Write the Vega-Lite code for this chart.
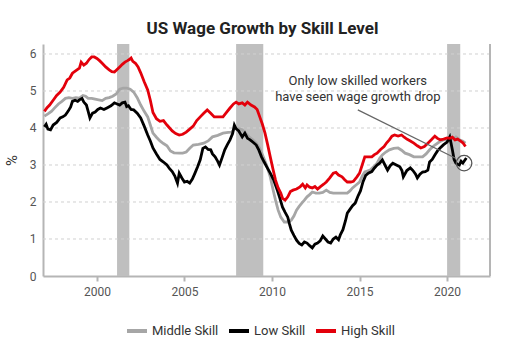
{
  "$schema": "https://vega.github.io/schema/vega-lite/v6.json",
  "width": 447,
  "height": 232,
  "autosize": {"type": "none"},
  "padding": {"left": 43, "top": 44, "right": 22, "bottom": 75},
  "title": {"text": "US Wage Growth by Skill Level", "font": "Roboto", "fontSize": 17, "fontWeight": "bold", "color": "#222222", "anchor": "middle", "offset": 5, "dx": -4},
  "config": {
    "view": {"stroke": null},
    "font": "Roboto",
    "axis": {"labelFont": "Roboto", "titleFont": "Roboto", "labelColor": "#555555", "titleColor": "#333333", "labelFontSize": 12, "domainColor": "#b5b5b5", "domainWidth": 2, "tickColor": "#b5b5b5", "grid": false, "labelOverlap": false},
    "axisX": {"title": null, "ticks": true, "tickSize": 5, "tickWidth": 2, "labelPadding": 5},
    "axisY": {"values": [0, 1, 2, 3, 4, 5, 6], "ticks": false, "labelPadding": 7, "titleFontSize": 15, "titleFontWeight": "normal", "titlePadding": 10}
  },
  "datasets": {
    "recessions": [
      {"start": 2001.15, "end": 2001.85},
      {"start": 2007.95, "end": 2009.5},
      {"start": 2020.0, "end": 2020.75}
    ],
    "grid": [{"g": 1}, {"g": 2}, {"g": 3}, {"g": 4}, {"g": 5}, {"g": 6}],
    "series": [
      {"series": "Middle Skill", "year": 1997.0, "value": 4.32},
      {"series": "Middle Skill", "year": 1997.2, "value": 4.38},
      {"series": "Middle Skill", "year": 1997.4, "value": 4.45},
      {"series": "Middle Skill", "year": 1997.6, "value": 4.55},
      {"series": "Middle Skill", "year": 1997.8, "value": 4.65},
      {"series": "Middle Skill", "year": 1998.0, "value": 4.72},
      {"series": "Middle Skill", "year": 1998.2, "value": 4.8},
      {"series": "Middle Skill", "year": 1998.4, "value": 4.82},
      {"series": "Middle Skill", "year": 1998.6, "value": 4.8},
      {"series": "Middle Skill", "year": 1998.8, "value": 4.82},
      {"series": "Middle Skill", "year": 1999.0, "value": 4.81},
      {"series": "Middle Skill", "year": 1999.2, "value": 4.88},
      {"series": "Middle Skill", "year": 1999.35, "value": 4.86},
      {"series": "Middle Skill", "year": 1999.5, "value": 4.8},
      {"series": "Middle Skill", "year": 1999.7, "value": 4.8},
      {"series": "Middle Skill", "year": 1999.9, "value": 4.78},
      {"series": "Middle Skill", "year": 2000.1, "value": 4.76},
      {"series": "Middle Skill", "year": 2000.3, "value": 4.74},
      {"series": "Middle Skill", "year": 2000.5, "value": 4.8},
      {"series": "Middle Skill", "year": 2000.7, "value": 4.82},
      {"series": "Middle Skill", "year": 2000.9, "value": 4.86},
      {"series": "Middle Skill", "year": 2001.1, "value": 4.92},
      {"series": "Middle Skill", "year": 2001.3, "value": 5.05},
      {"series": "Middle Skill", "year": 2001.5, "value": 5.08},
      {"series": "Middle Skill", "year": 2001.7, "value": 5.08},
      {"series": "Middle Skill", "year": 2001.9, "value": 5.05},
      {"series": "Middle Skill", "year": 2002.1, "value": 4.97},
      {"series": "Middle Skill", "year": 2002.3, "value": 4.82},
      {"series": "Middle Skill", "year": 2002.5, "value": 4.62},
      {"series": "Middle Skill", "year": 2002.7, "value": 4.45},
      {"series": "Middle Skill", "year": 2002.9, "value": 4.3},
      {"series": "Middle Skill", "year": 2003.05, "value": 4.08},
      {"series": "Middle Skill", "year": 2003.2, "value": 3.86},
      {"series": "Middle Skill", "year": 2003.4, "value": 3.75},
      {"series": "Middle Skill", "year": 2003.6, "value": 3.65},
      {"series": "Middle Skill", "year": 2003.8, "value": 3.58},
      {"series": "Middle Skill", "year": 2004.0, "value": 3.52},
      {"series": "Middle Skill", "year": 2004.2, "value": 3.38},
      {"series": "Middle Skill", "year": 2004.4, "value": 3.33},
      {"series": "Middle Skill", "year": 2004.7, "value": 3.32},
      {"series": "Middle Skill", "year": 2004.9, "value": 3.32},
      {"series": "Middle Skill", "year": 2005.1, "value": 3.35},
      {"series": "Middle Skill", "year": 2005.3, "value": 3.45},
      {"series": "Middle Skill", "year": 2005.5, "value": 3.54},
      {"series": "Middle Skill", "year": 2005.8, "value": 3.56},
      {"series": "Middle Skill", "year": 2006.1, "value": 3.59},
      {"series": "Middle Skill", "year": 2006.35, "value": 3.65},
      {"series": "Middle Skill", "year": 2006.6, "value": 3.76},
      {"series": "Middle Skill", "year": 2006.9, "value": 3.8},
      {"series": "Middle Skill", "year": 2007.2, "value": 3.86},
      {"series": "Middle Skill", "year": 2007.5, "value": 3.88},
      {"series": "Middle Skill", "year": 2007.7, "value": 3.89},
      {"series": "Middle Skill", "year": 2007.9, "value": 4.0},
      {"series": "Middle Skill", "year": 2008.1, "value": 3.98},
      {"series": "Middle Skill", "year": 2008.3, "value": 3.95},
      {"series": "Middle Skill", "year": 2008.5, "value": 3.85},
      {"series": "Middle Skill", "year": 2008.7, "value": 3.75},
      {"series": "Middle Skill", "year": 2008.9, "value": 3.68},
      {"series": "Middle Skill", "year": 2009.1, "value": 3.59},
      {"series": "Middle Skill", "year": 2009.3, "value": 3.45},
      {"series": "Middle Skill", "year": 2009.5, "value": 3.22},
      {"series": "Middle Skill", "year": 2009.7, "value": 2.98},
      {"series": "Middle Skill", "year": 2009.9, "value": 2.68},
      {"series": "Middle Skill", "year": 2010.05, "value": 2.35},
      {"series": "Middle Skill", "year": 2010.2, "value": 2.05},
      {"series": "Middle Skill", "year": 2010.35, "value": 1.78},
      {"series": "Middle Skill", "year": 2010.5, "value": 1.59},
      {"series": "Middle Skill", "year": 2010.7, "value": 1.46},
      {"series": "Middle Skill", "year": 2010.9, "value": 1.46},
      {"series": "Middle Skill", "year": 2011.1, "value": 1.51},
      {"series": "Middle Skill", "year": 2011.25, "value": 1.62},
      {"series": "Middle Skill", "year": 2011.4, "value": 1.78},
      {"series": "Middle Skill", "year": 2011.55, "value": 1.88},
      {"series": "Middle Skill", "year": 2011.7, "value": 1.97},
      {"series": "Middle Skill", "year": 2011.85, "value": 2.05},
      {"series": "Middle Skill", "year": 2012.0, "value": 2.14},
      {"series": "Middle Skill", "year": 2012.15, "value": 2.2},
      {"series": "Middle Skill", "year": 2012.3, "value": 2.27},
      {"series": "Middle Skill", "year": 2012.5, "value": 2.24},
      {"series": "Middle Skill", "year": 2012.7, "value": 2.24},
      {"series": "Middle Skill", "year": 2012.9, "value": 2.26},
      {"series": "Middle Skill", "year": 2013.1, "value": 2.32},
      {"series": "Middle Skill", "year": 2013.3, "value": 2.26},
      {"series": "Middle Skill", "year": 2013.5, "value": 2.24},
      {"series": "Middle Skill", "year": 2013.7, "value": 2.24},
      {"series": "Middle Skill", "year": 2013.9, "value": 2.24},
      {"series": "Middle Skill", "year": 2014.1, "value": 2.24},
      {"series": "Middle Skill", "year": 2014.3, "value": 2.24},
      {"series": "Middle Skill", "year": 2014.45, "value": 2.3},
      {"series": "Middle Skill", "year": 2014.6, "value": 2.38},
      {"series": "Middle Skill", "year": 2014.8, "value": 2.46},
      {"series": "Middle Skill", "year": 2015.0, "value": 2.54},
      {"series": "Middle Skill", "year": 2015.15, "value": 2.7},
      {"series": "Middle Skill", "year": 2015.3, "value": 2.81},
      {"series": "Middle Skill", "year": 2015.6, "value": 2.86},
      {"series": "Middle Skill", "year": 2015.8, "value": 2.95},
      {"series": "Middle Skill", "year": 2016.0, "value": 3.05},
      {"series": "Middle Skill", "year": 2016.15, "value": 3.18},
      {"series": "Middle Skill", "year": 2016.3, "value": 3.27},
      {"series": "Middle Skill", "year": 2016.5, "value": 3.35},
      {"series": "Middle Skill", "year": 2016.7, "value": 3.41},
      {"series": "Middle Skill", "year": 2016.95, "value": 3.45},
      {"series": "Middle Skill", "year": 2017.2, "value": 3.46},
      {"series": "Middle Skill", "year": 2017.4, "value": 3.4},
      {"series": "Middle Skill", "year": 2017.6, "value": 3.32},
      {"series": "Middle Skill", "year": 2017.85, "value": 3.28},
      {"series": "Middle Skill", "year": 2018.1, "value": 3.22},
      {"series": "Middle Skill", "year": 2018.35, "value": 3.22},
      {"series": "Middle Skill", "year": 2018.6, "value": 3.22},
      {"series": "Middle Skill", "year": 2018.8, "value": 3.3},
      {"series": "Middle Skill", "year": 2019.0, "value": 3.41},
      {"series": "Middle Skill", "year": 2019.15, "value": 3.48},
      {"series": "Middle Skill", "year": 2019.3, "value": 3.54},
      {"series": "Middle Skill", "year": 2019.55, "value": 3.62},
      {"series": "Middle Skill", "year": 2019.8, "value": 3.68},
      {"series": "Middle Skill", "year": 2020.0, "value": 3.68},
      {"series": "Middle Skill", "year": 2020.2, "value": 3.68},
      {"series": "Middle Skill", "year": 2020.35, "value": 3.72},
      {"series": "Middle Skill", "year": 2020.5, "value": 3.76},
      {"series": "Middle Skill", "year": 2020.7, "value": 3.68},
      {"series": "Middle Skill", "year": 2020.9, "value": 3.64},
      {"series": "Middle Skill", "year": 2021.05, "value": 3.59},

      {"series": "Low Skill", "year": 1997.0, "value": 4.03},
      {"series": "Low Skill", "year": 1997.1, "value": 4.1},
      {"series": "Low Skill", "year": 1997.2, "value": 3.97},
      {"series": "Low Skill", "year": 1997.35, "value": 3.95},
      {"series": "Low Skill", "year": 1997.5, "value": 4.08},
      {"series": "Low Skill", "year": 1997.7, "value": 4.15},
      {"series": "Low Skill", "year": 1997.9, "value": 4.27},
      {"series": "Low Skill", "year": 1998.05, "value": 4.3},
      {"series": "Low Skill", "year": 1998.2, "value": 4.35},
      {"series": "Low Skill", "year": 1998.35, "value": 4.45},
      {"series": "Low Skill", "year": 1998.5, "value": 4.57},
      {"series": "Low Skill", "year": 1998.6, "value": 4.72},
      {"series": "Low Skill", "year": 1998.75, "value": 4.75},
      {"series": "Low Skill", "year": 1998.9, "value": 4.72},
      {"series": "Low Skill", "year": 1999.0, "value": 4.76},
      {"series": "Low Skill", "year": 1999.15, "value": 4.8},
      {"series": "Low Skill", "year": 1999.25, "value": 4.7},
      {"series": "Low Skill", "year": 1999.4, "value": 4.62},
      {"series": "Low Skill", "year": 1999.5, "value": 4.45},
      {"series": "Low Skill", "year": 1999.6, "value": 4.27},
      {"series": "Low Skill", "year": 1999.75, "value": 4.4},
      {"series": "Low Skill", "year": 1999.9, "value": 4.43},
      {"series": "Low Skill", "year": 2000.05, "value": 4.5},
      {"series": "Low Skill", "year": 2000.2, "value": 4.54},
      {"series": "Low Skill", "year": 2000.4, "value": 4.5},
      {"series": "Low Skill", "year": 2000.6, "value": 4.55},
      {"series": "Low Skill", "year": 2000.8, "value": 4.6},
      {"series": "Low Skill", "year": 2001.0, "value": 4.68},
      {"series": "Low Skill", "year": 2001.15, "value": 4.65},
      {"series": "Low Skill", "year": 2001.3, "value": 4.62},
      {"series": "Low Skill", "year": 2001.45, "value": 4.68},
      {"series": "Low Skill", "year": 2001.6, "value": 4.7},
      {"series": "Low Skill", "year": 2001.7, "value": 4.58},
      {"series": "Low Skill", "year": 2001.8, "value": 4.6},
      {"series": "Low Skill", "year": 2001.95, "value": 4.5},
      {"series": "Low Skill", "year": 2002.1, "value": 4.49},
      {"series": "Low Skill", "year": 2002.3, "value": 4.4},
      {"series": "Low Skill", "year": 2002.5, "value": 4.27},
      {"series": "Low Skill", "year": 2002.7, "value": 4.05},
      {"series": "Low Skill", "year": 2002.9, "value": 3.81},
      {"series": "Low Skill", "year": 2003.05, "value": 3.65},
      {"series": "Low Skill", "year": 2003.2, "value": 3.46},
      {"series": "Low Skill", "year": 2003.4, "value": 3.3},
      {"series": "Low Skill", "year": 2003.6, "value": 3.15},
      {"series": "Low Skill", "year": 2003.8, "value": 3.08},
      {"series": "Low Skill", "year": 2004.0, "value": 3.0},
      {"series": "Low Skill", "year": 2004.15, "value": 2.9},
      {"series": "Low Skill", "year": 2004.3, "value": 2.82},
      {"series": "Low Skill", "year": 2004.45, "value": 2.7},
      {"series": "Low Skill", "year": 2004.6, "value": 2.51},
      {"series": "Low Skill", "year": 2004.7, "value": 2.78},
      {"series": "Low Skill", "year": 2004.85, "value": 2.65},
      {"series": "Low Skill", "year": 2005.0, "value": 2.54},
      {"series": "Low Skill", "year": 2005.15, "value": 2.56},
      {"series": "Low Skill", "year": 2005.3, "value": 2.51},
      {"series": "Low Skill", "year": 2005.45, "value": 2.62},
      {"series": "Low Skill", "year": 2005.6, "value": 2.78},
      {"series": "Low Skill", "year": 2005.75, "value": 2.95},
      {"series": "Low Skill", "year": 2005.9, "value": 3.14},
      {"series": "Low Skill", "year": 2006.05, "value": 3.45},
      {"series": "Low Skill", "year": 2006.2, "value": 3.49},
      {"series": "Low Skill", "year": 2006.35, "value": 3.42},
      {"series": "Low Skill", "year": 2006.5, "value": 3.41},
      {"series": "Low Skill", "year": 2006.6, "value": 3.3},
      {"series": "Low Skill", "year": 2006.75, "value": 3.22},
      {"series": "Low Skill", "year": 2006.9, "value": 3.1},
      {"series": "Low Skill", "year": 2007.0, "value": 3.0},
      {"series": "Low Skill", "year": 2007.15, "value": 3.2},
      {"series": "Low Skill", "year": 2007.3, "value": 3.41},
      {"series": "Low Skill", "year": 2007.45, "value": 3.55},
      {"series": "Low Skill", "year": 2007.6, "value": 3.68},
      {"series": "Low Skill", "year": 2007.75, "value": 3.85},
      {"series": "Low Skill", "year": 2007.85, "value": 4.08},
      {"series": "Low Skill", "year": 2007.95, "value": 3.98},
      {"series": "Low Skill", "year": 2008.1, "value": 3.92},
      {"series": "Low Skill", "year": 2008.3, "value": 3.76},
      {"series": "Low Skill", "year": 2008.45, "value": 3.86},
      {"series": "Low Skill", "year": 2008.6, "value": 3.72},
      {"series": "Low Skill", "year": 2008.75, "value": 3.68},
      {"series": "Low Skill", "year": 2008.9, "value": 3.62},
      {"series": "Low Skill", "year": 2009.1, "value": 3.54},
      {"series": "Low Skill", "year": 2009.25, "value": 3.4},
      {"series": "Low Skill", "year": 2009.4, "value": 3.22},
      {"series": "Low Skill", "year": 2009.55, "value": 3.08},
      {"series": "Low Skill", "year": 2009.7, "value": 2.95},
      {"series": "Low Skill", "year": 2009.9, "value": 2.78},
      {"series": "Low Skill", "year": 2010.1, "value": 2.59},
      {"series": "Low Skill", "year": 2010.3, "value": 2.32},
      {"series": "Low Skill", "year": 2010.45, "value": 2.1},
      {"series": "Low Skill", "year": 2010.6, "value": 1.86},
      {"series": "Low Skill", "year": 2010.75, "value": 1.72},
      {"series": "Low Skill", "year": 2010.9, "value": 1.59},
      {"series": "Low Skill", "year": 2011.0, "value": 1.4},
      {"series": "Low Skill", "year": 2011.1, "value": 1.24},
      {"series": "Low Skill", "year": 2011.25, "value": 1.1},
      {"series": "Low Skill", "year": 2011.4, "value": 0.97},
      {"series": "Low Skill", "year": 2011.55, "value": 0.88},
      {"series": "Low Skill", "year": 2011.7, "value": 0.84},
      {"series": "Low Skill", "year": 2011.85, "value": 0.92},
      {"series": "Low Skill", "year": 2012.0, "value": 0.89},
      {"series": "Low Skill", "year": 2012.15, "value": 0.82},
      {"series": "Low Skill", "year": 2012.3, "value": 0.76},
      {"series": "Low Skill", "year": 2012.45, "value": 0.86},
      {"series": "Low Skill", "year": 2012.6, "value": 0.89},
      {"series": "Low Skill", "year": 2012.75, "value": 0.95},
      {"series": "Low Skill", "year": 2012.9, "value": 1.08},
      {"series": "Low Skill", "year": 2013.05, "value": 1.0},
      {"series": "Low Skill", "year": 2013.2, "value": 0.92},
      {"series": "Low Skill", "year": 2013.35, "value": 0.89},
      {"series": "Low Skill", "year": 2013.5, "value": 1.0},
      {"series": "Low Skill", "year": 2013.65, "value": 1.05},
      {"series": "Low Skill", "year": 2013.8, "value": 0.98},
      {"series": "Low Skill", "year": 2013.9, "value": 1.11},
      {"series": "Low Skill", "year": 2014.05, "value": 1.25},
      {"series": "Low Skill", "year": 2014.2, "value": 1.5},
      {"series": "Low Skill", "year": 2014.3, "value": 1.7},
      {"series": "Low Skill", "year": 2014.45, "value": 1.8},
      {"series": "Low Skill", "year": 2014.6, "value": 1.9},
      {"series": "Low Skill", "year": 2014.75, "value": 1.97},
      {"series": "Low Skill", "year": 2014.9, "value": 2.15},
      {"series": "Low Skill", "year": 2015.05, "value": 2.3},
      {"series": "Low Skill", "year": 2015.2, "value": 2.55},
      {"series": "Low Skill", "year": 2015.35, "value": 2.72},
      {"series": "Low Skill", "year": 2015.5, "value": 2.78},
      {"series": "Low Skill", "year": 2015.7, "value": 2.82},
      {"series": "Low Skill", "year": 2015.85, "value": 2.92},
      {"series": "Low Skill", "year": 2016.0, "value": 3.0},
      {"series": "Low Skill", "year": 2016.15, "value": 3.05},
      {"series": "Low Skill", "year": 2016.3, "value": 3.14},
      {"series": "Low Skill", "year": 2016.45, "value": 3.0},
      {"series": "Low Skill", "year": 2016.6, "value": 2.86},
      {"series": "Low Skill", "year": 2016.75, "value": 2.98},
      {"series": "Low Skill", "year": 2016.9, "value": 3.05},
      {"series": "Low Skill", "year": 2017.1, "value": 3.0},
      {"series": "Low Skill", "year": 2017.3, "value": 2.95},
      {"series": "Low Skill", "year": 2017.42, "value": 2.85},
      {"series": "Low Skill", "year": 2017.5, "value": 2.68},
      {"series": "Low Skill", "year": 2017.7, "value": 2.85},
      {"series": "Low Skill", "year": 2017.9, "value": 2.92},
      {"series": "Low Skill", "year": 2018.05, "value": 2.85},
      {"series": "Low Skill", "year": 2018.2, "value": 2.75},
      {"series": "Low Skill", "year": 2018.3, "value": 2.65},
      {"series": "Low Skill", "year": 2018.45, "value": 2.75},
      {"series": "Low Skill", "year": 2018.6, "value": 2.81},
      {"series": "Low Skill", "year": 2018.75, "value": 2.82},
      {"series": "Low Skill", "year": 2018.9, "value": 2.86},
      {"series": "Low Skill", "year": 2019.0, "value": 3.08},
      {"series": "Low Skill", "year": 2019.15, "value": 3.15},
      {"series": "Low Skill", "year": 2019.3, "value": 3.27},
      {"series": "Low Skill", "year": 2019.45, "value": 3.38},
      {"series": "Low Skill", "year": 2019.6, "value": 3.46},
      {"series": "Low Skill", "year": 2019.8, "value": 3.55},
      {"series": "Low Skill", "year": 2020.0, "value": 3.62},
      {"series": "Low Skill", "year": 2020.15, "value": 3.76},
      {"series": "Low Skill", "year": 2020.22, "value": 3.6},
      {"series": "Low Skill", "year": 2020.3, "value": 3.41},
      {"series": "Low Skill", "year": 2020.4, "value": 3.15},
      {"series": "Low Skill", "year": 2020.5, "value": 3.05},
      {"series": "Low Skill", "year": 2020.6, "value": 3.02},
      {"series": "Low Skill", "year": 2020.7, "value": 3.0},
      {"series": "Low Skill", "year": 2020.8, "value": 3.1},
      {"series": "Low Skill", "year": 2020.9, "value": 3.05},
      {"series": "Low Skill", "year": 2021.0, "value": 3.12},
      {"series": "Low Skill", "year": 2021.1, "value": 3.19},

      {"series": "High Skill", "year": 1997.0, "value": 4.45},
      {"series": "High Skill", "year": 1997.15, "value": 4.55},
      {"series": "High Skill", "year": 1997.3, "value": 4.62},
      {"series": "High Skill", "year": 1997.5, "value": 4.75},
      {"series": "High Skill", "year": 1997.7, "value": 4.88},
      {"series": "High Skill", "year": 1997.9, "value": 4.97},
      {"series": "High Skill", "year": 1998.1, "value": 5.1},
      {"series": "High Skill", "year": 1998.3, "value": 5.3},
      {"series": "High Skill", "year": 1998.45, "value": 5.35},
      {"series": "High Skill", "year": 1998.6, "value": 5.48},
      {"series": "High Skill", "year": 1998.8, "value": 5.55},
      {"series": "High Skill", "year": 1999.0, "value": 5.62},
      {"series": "High Skill", "year": 1999.1, "value": 5.78},
      {"series": "High Skill", "year": 1999.25, "value": 5.7},
      {"series": "High Skill", "year": 1999.4, "value": 5.75},
      {"series": "High Skill", "year": 1999.55, "value": 5.85},
      {"series": "High Skill", "year": 1999.7, "value": 5.92},
      {"series": "High Skill", "year": 1999.85, "value": 5.92},
      {"series": "High Skill", "year": 2000.0, "value": 5.88},
      {"series": "High Skill", "year": 2000.15, "value": 5.82},
      {"series": "High Skill", "year": 2000.3, "value": 5.75},
      {"series": "High Skill", "year": 2000.5, "value": 5.65},
      {"series": "High Skill", "year": 2000.7, "value": 5.57},
      {"series": "High Skill", "year": 2000.85, "value": 5.52},
      {"series": "High Skill", "year": 2001.0, "value": 5.51},
      {"series": "High Skill", "year": 2001.15, "value": 5.58},
      {"series": "High Skill", "year": 2001.3, "value": 5.65},
      {"series": "High Skill", "year": 2001.45, "value": 5.72},
      {"series": "High Skill", "year": 2001.6, "value": 5.78},
      {"series": "High Skill", "year": 2001.75, "value": 5.82},
      {"series": "High Skill", "year": 2001.85, "value": 5.85},
      {"series": "High Skill", "year": 2001.95, "value": 5.89},
      {"series": "High Skill", "year": 2002.05, "value": 5.8},
      {"series": "High Skill", "year": 2002.2, "value": 5.75},
      {"series": "High Skill", "year": 2002.35, "value": 5.65},
      {"series": "High Skill", "year": 2002.5, "value": 5.49},
      {"series": "High Skill", "year": 2002.7, "value": 5.25},
      {"series": "High Skill", "year": 2002.9, "value": 5.03},
      {"series": "High Skill", "year": 2003.05, "value": 4.75},
      {"series": "High Skill", "year": 2003.2, "value": 4.42},
      {"series": "High Skill", "year": 2003.4, "value": 4.25},
      {"series": "High Skill", "year": 2003.6, "value": 4.18},
      {"series": "High Skill", "year": 2003.8, "value": 4.2},
      {"series": "High Skill", "year": 2004.0, "value": 4.08},
      {"series": "High Skill", "year": 2004.15, "value": 4.0},
      {"series": "High Skill", "year": 2004.3, "value": 3.92},
      {"series": "High Skill", "year": 2004.5, "value": 3.85},
      {"series": "High Skill", "year": 2004.7, "value": 3.81},
      {"series": "High Skill", "year": 2004.9, "value": 3.83},
      {"series": "High Skill", "year": 2005.1, "value": 3.89},
      {"series": "High Skill", "year": 2005.3, "value": 3.97},
      {"series": "High Skill", "year": 2005.5, "value": 4.05},
      {"series": "High Skill", "year": 2005.7, "value": 4.2},
      {"series": "High Skill", "year": 2005.9, "value": 4.3},
      {"series": "High Skill", "year": 2006.1, "value": 4.4},
      {"series": "High Skill", "year": 2006.3, "value": 4.49},
      {"series": "High Skill", "year": 2006.5, "value": 4.4},
      {"series": "High Skill", "year": 2006.7, "value": 4.3},
      {"series": "High Skill", "year": 2006.9, "value": 4.3},
      {"series": "High Skill", "year": 2007.2, "value": 4.3},
      {"series": "High Skill", "year": 2007.4, "value": 4.42},
      {"series": "High Skill", "year": 2007.6, "value": 4.54},
      {"series": "High Skill", "year": 2007.8, "value": 4.65},
      {"series": "High Skill", "year": 2007.95, "value": 4.7},
      {"series": "High Skill", "year": 2008.1, "value": 4.65},
      {"series": "High Skill", "year": 2008.3, "value": 4.68},
      {"series": "High Skill", "year": 2008.45, "value": 4.62},
      {"series": "High Skill", "year": 2008.6, "value": 4.7},
      {"series": "High Skill", "year": 2008.8, "value": 4.62},
      {"series": "High Skill", "year": 2009.0, "value": 4.57},
      {"series": "High Skill", "year": 2009.15, "value": 4.5},
      {"series": "High Skill", "year": 2009.3, "value": 4.3},
      {"series": "High Skill", "year": 2009.45, "value": 4.1},
      {"series": "High Skill", "year": 2009.6, "value": 3.86},
      {"series": "High Skill", "year": 2009.75, "value": 3.55},
      {"series": "High Skill", "year": 2009.9, "value": 3.22},
      {"series": "High Skill", "year": 2010.05, "value": 2.9},
      {"series": "High Skill", "year": 2010.2, "value": 2.59},
      {"series": "High Skill", "year": 2010.35, "value": 2.38},
      {"series": "High Skill", "year": 2010.5, "value": 2.24},
      {"series": "High Skill", "year": 2010.6, "value": 2.1},
      {"series": "High Skill", "year": 2010.75, "value": 2.05},
      {"series": "High Skill", "year": 2010.9, "value": 2.14},
      {"series": "High Skill", "year": 2011.05, "value": 2.28},
      {"series": "High Skill", "year": 2011.2, "value": 2.32},
      {"series": "High Skill", "year": 2011.4, "value": 2.35},
      {"series": "High Skill", "year": 2011.6, "value": 2.41},
      {"series": "High Skill", "year": 2011.75, "value": 2.48},
      {"series": "High Skill", "year": 2011.9, "value": 2.38},
      {"series": "High Skill", "year": 2012.0, "value": 2.46},
      {"series": "High Skill", "year": 2012.15, "value": 2.4},
      {"series": "High Skill", "year": 2012.3, "value": 2.38},
      {"series": "High Skill", "year": 2012.45, "value": 2.42},
      {"series": "High Skill", "year": 2012.6, "value": 2.35},
      {"series": "High Skill", "year": 2012.75, "value": 2.41},
      {"series": "High Skill", "year": 2012.95, "value": 2.48},
      {"series": "High Skill", "year": 2013.1, "value": 2.54},
      {"series": "High Skill", "year": 2013.3, "value": 2.65},
      {"series": "High Skill", "year": 2013.5, "value": 2.78},
      {"series": "High Skill", "year": 2013.65, "value": 2.8},
      {"series": "High Skill", "year": 2013.8, "value": 2.73},
      {"series": "High Skill", "year": 2014.0, "value": 2.68},
      {"series": "High Skill", "year": 2014.15, "value": 2.6},
      {"series": "High Skill", "year": 2014.3, "value": 2.54},
      {"series": "High Skill", "year": 2014.5, "value": 2.54},
      {"series": "High Skill", "year": 2014.65, "value": 2.56},
      {"series": "High Skill", "year": 2014.85, "value": 2.68},
      {"series": "High Skill", "year": 2015.0, "value": 2.78},
      {"series": "High Skill", "year": 2015.15, "value": 3.0},
      {"series": "High Skill", "year": 2015.3, "value": 3.22},
      {"series": "High Skill", "year": 2015.5, "value": 3.22},
      {"series": "High Skill", "year": 2015.7, "value": 3.22},
      {"series": "High Skill", "year": 2015.85, "value": 3.28},
      {"series": "High Skill", "year": 2016.0, "value": 3.32},
      {"series": "High Skill", "year": 2016.2, "value": 3.42},
      {"series": "High Skill", "year": 2016.4, "value": 3.5},
      {"series": "High Skill", "year": 2016.55, "value": 3.6},
      {"series": "High Skill", "year": 2016.7, "value": 3.68},
      {"series": "High Skill", "year": 2016.85, "value": 3.78},
      {"series": "High Skill", "year": 2017.0, "value": 3.81},
      {"series": "High Skill", "year": 2017.2, "value": 3.78},
      {"series": "High Skill", "year": 2017.4, "value": 3.81},
      {"series": "High Skill", "year": 2017.55, "value": 3.75},
      {"series": "High Skill", "year": 2017.7, "value": 3.7},
      {"series": "High Skill", "year": 2017.9, "value": 3.65},
      {"series": "High Skill", "year": 2018.1, "value": 3.59},
      {"series": "High Skill", "year": 2018.3, "value": 3.52},
      {"series": "High Skill", "year": 2018.5, "value": 3.46},
      {"series": "High Skill", "year": 2018.7, "value": 3.5},
      {"series": "High Skill", "year": 2018.9, "value": 3.59},
      {"series": "High Skill", "year": 2019.1, "value": 3.68},
      {"series": "High Skill", "year": 2019.3, "value": 3.78},
      {"series": "High Skill", "year": 2019.45, "value": 3.72},
      {"series": "High Skill", "year": 2019.6, "value": 3.68},
      {"series": "High Skill", "year": 2019.8, "value": 3.7},
      {"series": "High Skill", "year": 2020.0, "value": 3.73},
      {"series": "High Skill", "year": 2020.15, "value": 3.72},
      {"series": "High Skill", "year": 2020.3, "value": 3.75},
      {"series": "High Skill", "year": 2020.45, "value": 3.68},
      {"series": "High Skill", "year": 2020.6, "value": 3.7},
      {"series": "High Skill", "year": 2020.75, "value": 3.65},
      {"series": "High Skill", "year": 2020.9, "value": 3.6},
      {"series": "High Skill", "year": 2021.05, "value": 3.5}
    ],
    "notes": [
      {"year": 2014.9, "value": 5.27, "text": "Only low skilled workers"},
      {"year": 2014.9, "value": 4.84, "text": "have seen wage growth drop"}
    ],
    "pointer": [{"year": 2014.9, "value": 4.49, "year2": 2020.46, "value2": 3.19}],
    "highlight": [{"year": 2020.97, "value": 3.05}]
  },
  "layer": [
    {
      "data": {"name": "recessions"},
      "mark": {"type": "rect", "color": "#bfbfbf"},
      "encoding": {
        "x": {"field": "start", "type": "quantitative", "title": null, "scale": {"domain": [1996.92, 2022.45], "nice": false, "zero": false}, "axis": {"values": [2000, 2005, 2010, 2015, 2020], "format": "d"}},
        "x2": {"field": "end"},
        "y": {"datum": 0, "type": "quantitative", "title": "%", "scale": {"domain": [0, 6.27], "nice": false}},
        "y2": {"datum": 6.27}
      }
    },
    {
      "data": {"name": "grid"},
      "mark": {"type": "rule", "color": "#d0d0d0", "strokeWidth": 1, "strokeDash": [3, 3]},
      "encoding": {"y": {"field": "g", "type": "quantitative", "title": "%"}}
    },
    {
      "data": {"name": "grid"},
      "mark": {"type": "rule", "color": "#b5b5b5", "strokeWidth": 2},
      "encoding": {"x": {"datum": 2022.45, "type": "quantitative", "title": null, "axis": {"values": [2000, 2005, 2010, 2015, 2020], "format": "d"}}}
    },
    {
      "data": {"name": "series"},
      "mark": {"type": "line", "strokeWidth": 2.8, "interpolate": "linear"},
      "encoding": {
        "x": {"field": "year", "type": "quantitative", "title": null, "axis": {"values": [2000, 2005, 2010, 2015, 2020], "format": "d"}},
        "y": {"field": "value", "type": "quantitative", "title": "%"},
        "color": {
          "field": "series", "type": "nominal",
          "scale": {"domain": ["Middle Skill", "Low Skill", "High Skill"], "range": ["#a6a6a6", "#000000", "#e3000b"]},
          "legend": {"title": null, "orient": "none", "direction": "horizontal", "legendX": 82, "legendY": 275, "gridAlign": "none", "symbolType": "stroke", "symbolSize": 400, "symbolStrokeWidth": 4, "labelFontSize": 13, "labelFont": "Roboto", "labelColor": "#333333", "labelOffset": 3, "columnPadding": 2}
        }
      }
    },
    {
      "data": {"name": "pointer"},
      "mark": {"type": "rule", "color": "#666666", "strokeWidth": 1.2},
      "encoding": {
        "x": {"field": "year", "type": "quantitative", "title": null, "axis": {"values": [2000, 2005, 2010, 2015, 2020], "format": "d"}},
        "y": {"field": "value", "type": "quantitative", "title": "%"},
        "x2": {"field": "year2"},
        "y2": {"field": "value2"}
      }
    },
    {
      "data": {"name": "highlight"},
      "mark": {"type": "point", "shape": "circle", "filled": false, "size": 240, "color": "#555555", "strokeWidth": 1.3, "opacity": 1},
      "encoding": {
        "x": {"field": "year", "type": "quantitative", "title": null, "axis": {"values": [2000, 2005, 2010, 2015, 2020], "format": "d"}},
        "y": {"field": "value", "type": "quantitative", "title": "%"}
      }
    },
    {
      "data": {"name": "notes"},
      "mark": {"type": "text", "font": "Roboto", "fontSize": 13, "color": "#333333", "align": "center", "baseline": "middle"},
      "encoding": {
        "x": {"field": "year", "type": "quantitative", "title": null, "axis": {"values": [2000, 2005, 2010, 2015, 2020], "format": "d"}},
        "y": {"field": "value", "type": "quantitative", "title": "%"},
        "text": {"field": "text"}
      }
    }
  ]
}
